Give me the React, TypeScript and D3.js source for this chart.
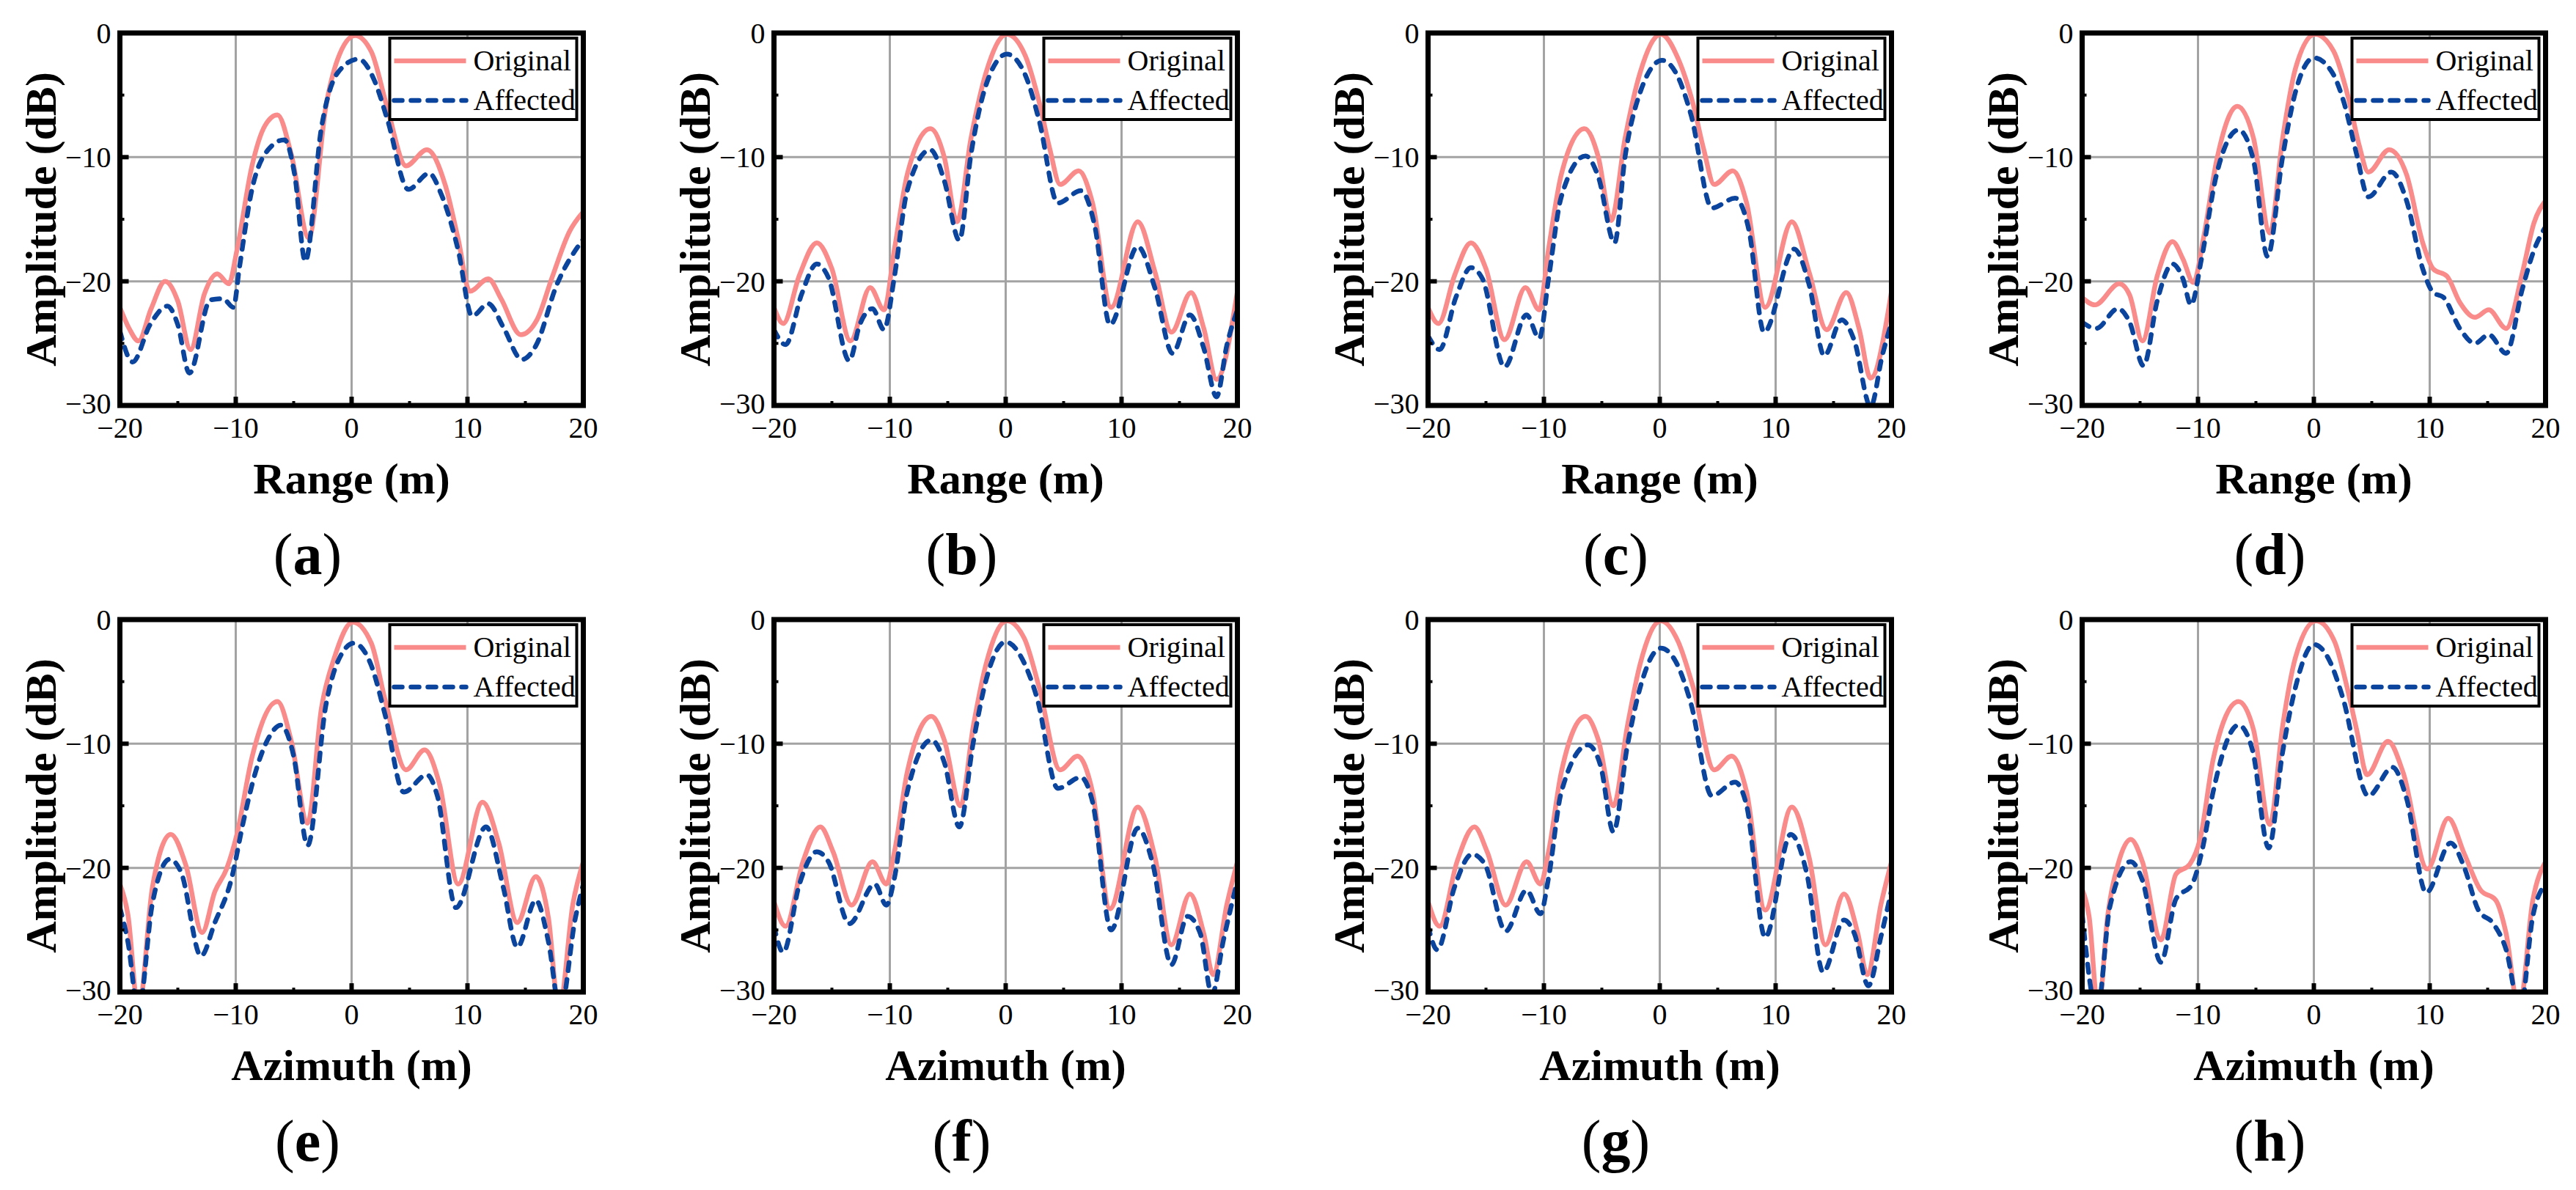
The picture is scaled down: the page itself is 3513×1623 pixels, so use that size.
import React from 'react';
import * as d3 from 'd3';

type Pt = [number, number];

// axis setup
const xDomain: [number, number] = [-20, 20];
const yDomain: [number, number] = [-30, 0];
const xTicks = [-20, -10, 0, 10, 20];
const yTicks = [0, -10, -20, -30];
const xMinor = [-15, -5, 5, 15];
const yMinor = [-5, -15, -25];
const xGrid = [-10, 0, 10];
const yGrid = [-10, -20];
const seriesNames = ['Original', 'Affected'];
const captions = ['a', 'b', 'c', 'd', 'e', 'f', 'g', 'h'];
const xTitles = ['Range (m)', 'Range (m)', 'Range (m)', 'Range (m)', 'Azimuth (m)', 'Azimuth (m)', 'Azimuth (m)', 'Azimuth (m)'];

// (a) range
const origA: Pt[] = [[-20,-22.1],[-19.2,-23.8],[-18.4,-24.8],[-17.3,-22.2],[-16.1,-20.0],[-15.0,-21.6],[-13.9,-25.5],[-12.7,-21.0],[-11.6,-19.4],[-10.6,-20.2],[-9.9,-17.5],[-8.6,-10.7],[-7.5,-7.5],[-6.4,-6.6],[-5.2,-9.8],[-3.7,-16.5],[-2.2,-5.8],[-1.2,-2.1],[0.3,-0.2],[1.7,-1.5],[3.1,-6.1],[4.7,-10.7],[6.5,-9.4],[8.1,-12.3],[9.2,-16.6],[10.2,-20.8],[11.8,-19.8],[12.9,-21.4],[14.6,-24.3],[16.0,-23.1],[17.3,-19.7],[18.8,-16.0],[20,-14.4]];
const affA: Pt[] = [[-20,-24.0],[-18.9,-26.5],[-17.4,-23.5],[-15.9,-22.0],[-15.0,-23.5],[-14.0,-27.4],[-12.2,-21.5],[-11.1,-21.4],[-10.2,-22.1],[-9.7,-19.0],[-8.6,-12.6],[-7.2,-9.4],[-5.8,-8.6],[-4.9,-11.5],[-4.0,-18.4],[-2.6,-7.6],[-1.2,-3.2],[0.6,-2.1],[2.0,-3.9],[3.1,-7.0],[4.9,-12.6],[6.7,-11.3],[7.7,-12.9],[9.2,-17.5],[10.4,-22.8],[11.8,-21.8],[13.1,-23.7],[14.7,-26.3],[15.9,-25.2],[17.7,-20.3],[20,-16.6]];

// (b) range
const origB: Pt[] = [[-20,-22.1],[-19.2,-23.4],[-17.8,-19.5],[-16.3,-16.9],[-15.0,-19.0],[-13.4,-24.8],[-11.7,-20.5],[-10.5,-22.3],[-9.6,-17.4],[-8.5,-11.4],[-6.5,-7.7],[-5.3,-10.0],[-4.2,-15.2],[-3.0,-8.5],[-1.7,-3.2],[0.1,-0.1],[1.7,-1.85],[2.9,-5.6],[3.8,-9.3],[4.7,-12.2],[6.3,-11.1],[7.5,-13.7],[9.1,-22.1],[11.4,-15.2],[12.9,-19.3],[14.3,-24.1],[16.0,-20.9],[17.1,-23.8],[18.2,-27.9],[20,-20.8]];
const affB: Pt[] = [[-20,-23.9],[-19.0,-25.1],[-17.6,-21.0],[-16.3,-18.6],[-15.3,-19.7],[-13.5,-26.4],[-12.6,-23.5],[-11.5,-22.2],[-10.5,-23.9],[-9.6,-19.6],[-8.5,-12.7],[-6.5,-9.4],[-5.3,-11.9],[-4.0,-16.7],[-3.0,-9.8],[-1.7,-4.2],[0.1,-1.7],[1.7,-3.4],[2.9,-7.1],[4.5,-13.7],[6.5,-12.7],[7.7,-15.6],[9.0,-23.5],[11.4,-17.2],[12.9,-20.6],[14.4,-25.8],[15.9,-22.7],[17.1,-25.4],[18.2,-29.3],[19.1,-25.1],[20,-22.3]];

// (c) range
const origC: Pt[] = [[-20,-22.1],[-19.1,-23.4],[-17.7,-19.5],[-16.3,-16.9],[-15.0,-19.0],[-13.4,-24.7],[-11.6,-20.5],[-10.4,-22.3],[-9.6,-17.4],[-8.5,-11.4],[-6.5,-7.7],[-5.3,-10.0],[-4.2,-15.1],[-3.0,-8.5],[-1.7,-3.2],[0.1,-0.1],[1.6,-2.1],[2.9,-5.8],[3.8,-9.4],[4.7,-12.2],[6.3,-11.1],[7.5,-13.7],[9.1,-22.1],[11.4,-15.2],[12.9,-19.3],[14.4,-23.9],[16.1,-20.9],[17.2,-23.8],[18.2,-27.8],[20,-20.8]];
const affC: Pt[] = [[-20,-24.4],[-19.0,-25.5],[-17.6,-21.3],[-16.3,-18.9],[-15.3,-19.8],[-13.4,-26.9],[-11.5,-22.7],[-10.4,-24.6],[-9.6,-19.8],[-8.5,-13.2],[-6.4,-9.9],[-5.3,-11.6],[-3.9,-16.9],[-3.0,-10.0],[-1.7,-4.8],[0.2,-2.2],[1.5,-3.4],[2.7,-6.6],[4.5,-14.1],[6.5,-13.3],[7.7,-15.9],[9.0,-24.1],[11.6,-17.4],[12.9,-20.3],[14.2,-26.0],[15.7,-23.1],[16.8,-24.8],[18.2,-30.1],[19.2,-26.0],[20,-23.3]];

// (d) range
const origD: Pt[] = [[-20,-21.3],[-18.9,-21.9],[-16.8,-20.2],[-15.9,-21.1],[-14.8,-24.8],[-13.5,-19.5],[-12.2,-16.8],[-11.3,-18.2],[-10.4,-20.1],[-9.5,-16.4],[-8.4,-10.3],[-6.6,-5.9],[-5.2,-8.5],[-3.8,-16.1],[-2.7,-8.5],[-1.6,-2.9],[0.1,-0.1],[1.7,-1.45],[3.0,-5.3],[3.9,-9.0],[4.7,-11.2],[6.5,-9.4],[8.0,-11.4],[9.4,-16.9],[10.3,-19.0],[11.5,-19.6],[12.6,-21.7],[13.9,-22.9],[15.1,-22.3],[16.6,-23.8],[18.0,-19.3],[19.0,-15.3],[20,-13.5]];
const affD: Pt[] = [[-20,-23.3],[-18.8,-23.8],[-16.9,-22.2],[-15.9,-23.3],[-14.7,-26.8],[-13.5,-21.5],[-12.2,-18.6],[-11.3,-19.8],[-10.6,-21.9],[-9.7,-18.2],[-8.4,-11.4],[-6.5,-7.8],[-5.2,-10.3],[-4.0,-18.0],[-2.7,-10.0],[-1.6,-4.8],[0,-2.0],[1.6,-3.2],[2.6,-5.6],[3.7,-9.8],[4.7,-13.2],[6.7,-11.2],[8.0,-13.5],[9.4,-19.0],[10.3,-20.9],[11.2,-21.3],[12.6,-23.8],[13.9,-25.0],[15.1,-24.3],[16.6,-25.8],[18.0,-20.6],[19.0,-17.5],[20,-15.6]];

// (e) azimuth
const origE: Pt[] = [[-20,-21.3],[-19.3,-23.8],[-18.4,-31.5],[-17.2,-21.6],[-15.6,-17.3],[-14.3,-19.8],[-12.9,-25.2],[-11.8,-21.9],[-10.8,-20.1],[-9.9,-17.3],[-8.6,-11.1],[-6.4,-6.6],[-5.2,-9.8],[-3.8,-16.4],[-2.6,-7.1],[-1.5,-3.1],[0.1,-0.2],[1.7,-1.9],[2.9,-6.5],[4.7,-12.1],[6.3,-10.5],[7.6,-13.3],[9.2,-21.3],[11.3,-14.7],[12.7,-18.0],[14.3,-24.4],[15.9,-20.7],[17.0,-24.1],[17.9,-31.5],[19.1,-22.9],[20,-19.5]];
const affE: Pt[] = [[-20,-23.2],[-19.3,-26.0],[-18.4,-31.5],[-17.2,-22.9],[-15.7,-19.3],[-14.7,-20.4],[-13.0,-27.1],[-11.8,-24.4],[-10.4,-21.0],[-9.3,-16.1],[-8.3,-12.3],[-7.2,-9.6],[-6.1,-8.5],[-5.0,-11.0],[-3.8,-18.2],[-2.2,-6.8],[-1.2,-3.4],[0.2,-1.9],[1.7,-3.7],[2.9,-7.7],[4.5,-13.9],[6.5,-12.5],[7.4,-14.2],[9.0,-23.2],[11.6,-16.7],[13.1,-21.6],[14.3,-26.4],[15.9,-22.6],[17.0,-26.0],[18.0,-31.5],[19.3,-24.1],[20,-21.3]];

// (f) azimuth
const origF: Pt[] = [[-20,-22.7],[-19.0,-24.7],[-17.5,-19.5],[-16.0,-16.7],[-14.9,-18.7],[-13.3,-23.0],[-11.5,-19.5],[-10.3,-21.3],[-9.6,-18.7],[-8.5,-12.3],[-6.4,-7.8],[-5.3,-9.7],[-3.9,-15.0],[-2.8,-8.6],[-1.7,-3.6],[0.1,-0.1],[1.6,-1.5],[2.9,-5.5],[4.7,-12.1],[6.2,-11.0],[7.5,-13.9],[9.0,-23.3],[11.4,-15.1],[12.9,-19.2],[14.3,-26.2],[15.9,-22.1],[17.1,-25.3],[17.9,-28.6],[19.1,-22.9],[20,-19.5]];
const affF: Pt[] = [[-20,-24.7],[-19.2,-26.8],[-17.8,-21.3],[-16.3,-18.7],[-15.3,-19.5],[-13.5,-24.5],[-11.3,-21.3],[-10.3,-23.0],[-9.6,-20.8],[-8.5,-13.9],[-6.4,-9.7],[-5.3,-11.5],[-4.0,-16.7],[-2.8,-9.9],[-1.7,-4.9],[0,-1.8],[1.6,-3.5],[2.7,-6.3],[4.5,-13.6],[6.5,-12.7],[7.5,-14.7],[9.1,-25.0],[11.4,-16.8],[12.7,-19.7],[14.3,-27.8],[15.7,-23.9],[16.8,-25.3],[17.8,-30.2],[18.8,-25.8],[20,-21.0]];

// (g) azimuth
const origG: Pt[] = [[-20,-22.7],[-19.0,-24.7],[-17.5,-19.5],[-16.0,-16.7],[-14.9,-18.7],[-13.3,-23.0],[-11.5,-19.5],[-10.3,-21.3],[-9.6,-18.7],[-8.5,-12.3],[-6.4,-7.8],[-5.3,-9.7],[-4.0,-15.0],[-2.8,-8.6],[-1.7,-3.6],[0.1,-0.1],[1.6,-1.8],[2.9,-5.5],[4.7,-12.1],[6.2,-11.0],[7.5,-13.9],[9.1,-23.4],[11.4,-15.1],[12.9,-19.2],[14.3,-26.2],[15.9,-22.1],[17.1,-25.3],[17.9,-28.6],[19.1,-22.9],[20,-19.5]];
const affG: Pt[] = [[-20,-24.7],[-19.2,-26.6],[-17.7,-21.5],[-16.2,-18.9],[-15.1,-19.7],[-13.3,-25.1],[-11.5,-21.8],[-10.3,-23.7],[-9.6,-20.8],[-8.5,-13.9],[-6.2,-10.1],[-5.1,-11.8],[-4.0,-17.1],[-2.8,-10.2],[-1.7,-5.5],[0.1,-2.3],[1.5,-3.6],[2.7,-6.8],[4.5,-14.2],[6.5,-13.1],[7.5,-15.0],[9.1,-25.6],[11.3,-17.3],[12.7,-20.5],[14.1,-28.4],[15.9,-24.2],[16.8,-25.3],[18.0,-29.5],[19.1,-25.5],[20,-21.8]];

// (h) azimuth
const origH: Pt[] = [[-20,-21.7],[-19.4,-23.9],[-18.6,-31.5],[-17.8,-23.9],[-16.9,-19.7],[-15.8,-17.7],[-14.8,-19.5],[-13.2,-25.8],[-11.9,-20.5],[-10.7,-19.7],[-9.8,-17.6],[-8.7,-11.3],[-6.5,-6.6],[-5.2,-8.9],[-3.8,-16.5],[-2.7,-8.6],[-1.6,-3.1],[0.2,-0.1],[1.8,-1.8],[2.8,-5.2],[3.7,-8.9],[4.6,-12.5],[6.4,-9.8],[7.7,-12.3],[9.8,-20.1],[11.6,-16.0],[13.0,-18.9],[14.4,-21.8],[15.7,-22.6],[16.6,-25.3],[17.7,-31.5],[18.9,-22.6],[20,-19.5]];
const affH: Pt[] = [[-20,-23.7],[-18.7,-31.5],[-17.6,-23.1],[-15.8,-19.5],[-14.8,-21.0],[-13.2,-27.6],[-11.9,-22.5],[-10.5,-21.3],[-9.6,-18.4],[-8.7,-13.9],[-6.5,-8.5],[-5.3,-10.5],[-3.9,-18.4],[-2.7,-10.7],[-1.6,-5.5],[0,-2.0],[1.4,-3.4],[2.5,-6.3],[4.7,-14.2],[6.8,-11.9],[8.0,-14.4],[9.7,-22.0],[11.8,-18.0],[13.0,-20.0],[14.2,-23.4],[15.5,-24.5],[16.6,-26.6],[17.8,-31.5],[18.9,-23.9],[20,-21.3]];

const originals = [origA, origB, origC, origD, origE, origF, origG, origH];
const affecteds = [affA, affB, affC, affD, affE, affF, affG, affH];

const W = 3513;
const H = 1623;
const FONT = "'Liberation Serif', 'Times New Roman', serif";
const PINK = '#f98b8b';
const BLUE = '#0a449c';
const LW = 6.5;
const DASH = '11 12';

const plotW = 632;
const plotH = 508;
const lefts = [163.5, 1055.5, 1947.5, 2839.5];
const tops = [45, 845];

function Panel({ idx }: { idx: number }) {
  const left = lefts[idx % 4];
  const top = tops[Math.floor(idx / 4)];
  const x = d3.scaleLinear().domain(xDomain).range([0, plotW]);
  const y = d3.scaleLinear().domain(yDomain).range([plotH, 0]);
  const line = d3.line<Pt>().x(d => x(d[0])).y(d => y(d[1])).curve(d3.curveMonotoneX);
  const clipId = `clip-${idx}`;
  const fmt = (v: number) => (v < 0 ? '\u2212' + Math.abs(v) : String(v));
  const legX = plotW - 9 - 255;
  const legY = 7;
  const rowY = [legY + 31, legY + 85];

  return (
    <g transform={`translate(${left},${top})`}>
      <defs>
        <clipPath id={clipId}>
          <rect x={0} y={0} width={plotW} height={plotH} />
        </clipPath>
      </defs>
      {xGrid.map(v => (
        <line key={'gx' + v} x1={x(v)} x2={x(v)} y1={0} y2={plotH} stroke="#a3a3a3" strokeWidth={3} />
      ))}
      {yGrid.map(v => (
        <line key={'gy' + v} x1={0} x2={plotW} y1={y(v)} y2={y(v)} stroke="#a3a3a3" strokeWidth={3} />
      ))}
      <g clipPath={`url(#${clipId})`}>
        <path d={line(originals[idx]) || ''} fill="none" stroke={PINK} strokeWidth={LW} strokeLinejoin="round" />
        <path d={line(affecteds[idx]) || ''} fill="none" stroke={BLUE} strokeWidth={LW} strokeDasharray={DASH} strokeLinecap="round" />
      </g>
      {/* ticks */}
      {xGrid.map(v => (
        <line key={'tx' + v} x1={x(v)} x2={x(v)} y1={plotH} y2={plotH - 12} stroke="#000" strokeWidth={6} />
      ))}
      {xMinor.map(v => (
        <line key={'mx' + v} x1={x(v)} x2={x(v)} y1={plotH} y2={plotH - 6} stroke="#000" strokeWidth={4} />
      ))}
      {yGrid.map(v => (
        <line key={'ty' + v} x1={0} x2={12} y1={y(v)} y2={y(v)} stroke="#000" strokeWidth={6} />
      ))}
      {yMinor.map(v => (
        <line key={'my' + v} x1={0} x2={6} y1={y(v)} y2={y(v)} stroke="#000" strokeWidth={4} />
      ))}
      <rect x={0} y={0} width={plotW} height={plotH} fill="none" stroke="#000" strokeWidth={7} />
      {/* tick labels */}
      {xTicks.map(v => (
        <text key={'lx' + v} x={x(v)} y={plotH + 44} textAnchor="middle" fontSize={40} fontFamily={FONT}>
          {fmt(v)}
        </text>
      ))}
      {yTicks.map(v => (
        <text key={'ly' + v} x={-12} y={y(v) - (v === -30 ? 3 : 0)} dy="0.35em" textAnchor="end" fontSize={40} fontFamily={FONT}>
          {fmt(v)}
        </text>
      ))}
      {/* titles */}
      <text x={plotW / 2} y={plotH + 120} textAnchor="middle" fontSize={60} fontWeight="bold" fontFamily={FONT}>
        {xTitles[idx]}
      </text>
      <text transform={`translate(-88,${plotH / 2}) rotate(-90)`} textAnchor="middle" fontSize={60} fontWeight="bold" fontFamily={FONT}>
        Amplitude (dB)
      </text>
      <text x={plotW / 2 - 60} y={plotH + 230} textAnchor="middle" fontSize={80} fontFamily={FONT}>
        (<tspan fontWeight="bold">{captions[idx]}</tspan>)
      </text>
      {/* legend */}
      <rect x={legX} y={legY} width={255} height={111} fill="#fff" stroke="#000" strokeWidth={4} />
      {seriesNames.map((name, i) => (
        <g key={name}>
          <line
            x1={legX + 6}
            x2={legX + 104}
            y1={rowY[i]}
            y2={rowY[i]}
            stroke={i === 0 ? PINK : BLUE}
            strokeWidth={LW}
            strokeDasharray={i === 0 ? undefined : DASH}
            strokeLinecap={i === 0 ? 'butt' : 'round'}
          />
          <text x={legX + 114} y={rowY[i]} dy="0.33em" fontSize={40} fontFamily={FONT}>
            {name}
          </text>
        </g>
      ))}
    </g>
  );
}

export default function App() {
  return (
    <svg
      width={W}
      height={H}
      viewBox={`0 0 ${W} ${H}`}
      style={{ position: 'absolute', left: 0, top: 0, background: '#fff' }}
    >
      <rect width={W} height={H} fill="#fff" />
      {captions.map((c, i) => (
        <Panel key={c} idx={i} />
      ))}
    </svg>
  );
}
